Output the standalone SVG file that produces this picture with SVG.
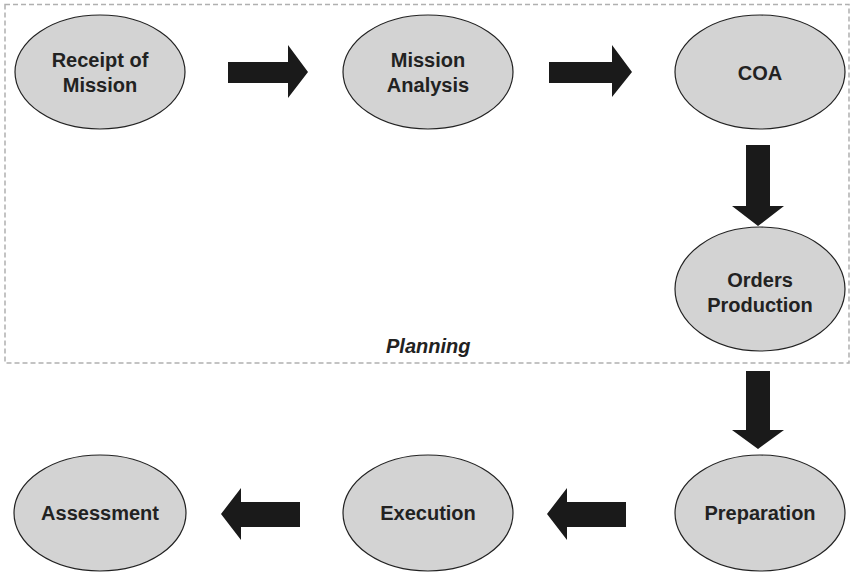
<svg xmlns="http://www.w3.org/2000/svg" width="852" height="575" viewBox="0 0 852 575">
<style>
.node ellipse{fill:#d3d3d3;stroke:#222;stroke-width:1.2}
.node text{font-family:"Liberation Sans",Arial,sans-serif;font-weight:bold;font-size:20px;fill:#222;text-anchor:middle}
.arrow{fill:#1a1a1a}
.frame{fill:none;stroke:#b0b0b0;stroke-width:1.5;stroke-dasharray:5,3}
.label{font-family:"Liberation Sans",Arial,sans-serif;font-weight:bold;font-style:italic;font-size:20px;fill:#222}
</style>
<rect width="852" height="575" fill="#fff"/>
<g id="planning">
<rect class="frame" x="5" y="4.5" width="844" height="358.5"/>
<text class="label" x="386" y="353">Planning</text>
</g>
<g id="receipt" class="node"><ellipse cx="100" cy="72" rx="85" ry="57"/><text x="100" y="67">Receipt of</text><text x="100" y="92">Mission</text></g>
<g id="analysis" class="node"><ellipse cx="428" cy="72" rx="85" ry="57"/><text x="428" y="67">Mission</text><text x="428" y="92">Analysis</text></g>
<g id="coa" class="node"><ellipse cx="760" cy="72" rx="85" ry="57"/><text x="760" y="80">COA</text></g>
<g id="orders" class="node"><ellipse cx="760" cy="289" rx="85" ry="62"/><text x="760" y="287">Orders</text><text x="760" y="312">Production</text></g>
<g id="preparation" class="node"><ellipse cx="760" cy="513" rx="85" ry="58"/><text x="760" y="520">Preparation</text></g>
<g id="execution" class="node"><ellipse cx="428" cy="513" rx="85" ry="58"/><text x="428" y="520">Execution</text></g>
<g id="assessment" class="node"><ellipse cx="100" cy="513" rx="86" ry="58"/><text x="100" y="520">Assessment</text></g>
<g id="connectors">
<polygon class="arrow" points="228,62 288,62 288,45 308,72 288,98 288,83 228,83"/>
<polygon class="arrow" points="549,62 612,62 612,45 632,72 612,97 612,83 549,83"/>
<polygon class="arrow" points="746,145 770,145 770,206 784,206 758,226 732,206 746,206"/>
<polygon class="arrow" points="746,371 770,371 770,430 784,430 758,449 732,430 746,430"/>
<polygon class="arrow" points="626,502 567,502 567,488 547,514 567,540 567,527 626,527"/>
<polygon class="arrow" points="300,502 241,502 241,488 221,514 241,540 241,527 300,527"/>
</g>
</svg>
